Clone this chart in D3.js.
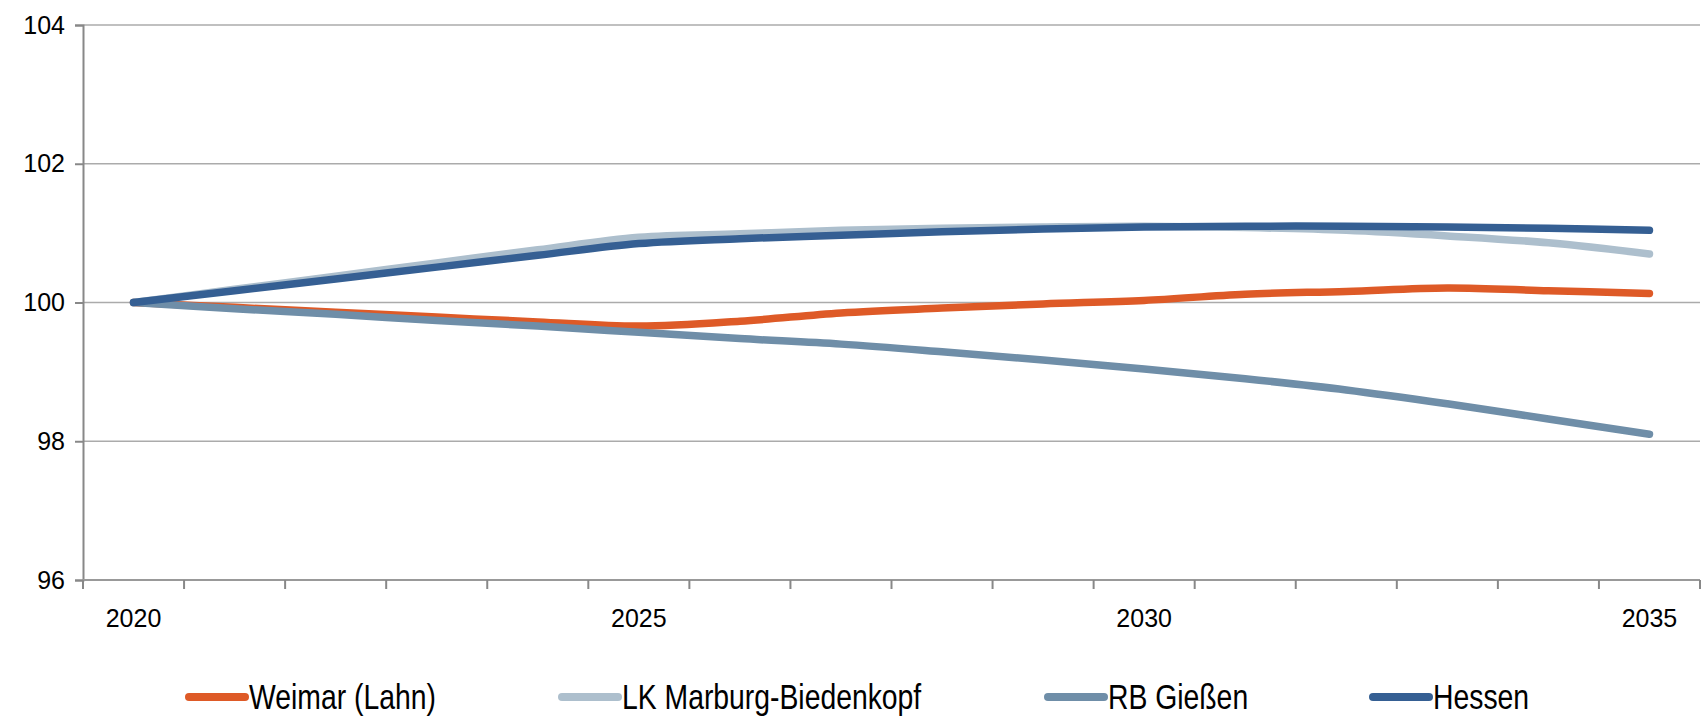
<!DOCTYPE html>
<html lang="de">
<head>
<meta charset="UTF-8">
<title>Bevölkerungsentwicklung Index</title>
<script src="https://d3js.org/d3.v7.min.js"></script>
<style>
  body { margin: 0; background: #fff; }
  svg text { font-family: "Liberation Sans", Arial, sans-serif; fill: #000; }
</style>
</head>
<body>
<svg id="chart" width="1701" height="718"></svg>
<script>
// data
const years = [2020, 2021, 2022, 2023, 2024, 2025, 2026, 2027, 2028, 2029, 2030, 2031, 2032, 2033, 2034, 2035];
const weimar   = [100, 99.93, 99.86, 99.79, 99.72, 99.66, 99.73, 99.85, 99.92, 99.98, 100.03, 100.12, 100.16, 100.21, 100.17, 100.13];
const marburg  = [100, 100.19, 100.38, 100.57, 100.76, 100.94, 100.99, 101.04, 101.07, 101.09, 101.10, 101.08, 101.04, 100.96, 100.86, 100.70];
const giessen  = [100, 99.91, 99.83, 99.74, 99.66, 99.57, 99.48, 99.40, 99.29, 99.17, 99.04, 98.90, 98.74, 98.54, 98.32, 98.10];
const hessen   = [100, 100.17, 100.34, 100.51, 100.68, 100.85, 100.92, 100.97, 101.02, 101.06, 101.09, 101.10, 101.10, 101.09, 101.07, 101.04];
const yTicks = [96, 98, 100, 102, 104];
const xLabels = [2020, 2025, 2030, 2035];

const series = [
  { name: "Weimar (Lahn)", values: weimar, color: "#de5a27" },
  { name: "LK Marburg-Biedenkopf", values: marburg, color: "#adbfcd" },
  { name: "RB Gießen", values: giessen, color: "#6f8ea8" },
  { name: "Hessen", values: hessen, color: "#355f93" }
];

const svg = d3.select("#chart");
const plotLeft = 83, plotRight = 1700, plotTop = 25, plotBottom = 580;

const x = d3.scalePoint().domain(years).range([plotLeft, plotRight]).padding(0.5);
const y = d3.scaleLinear().domain([96, 104]).range([plotBottom, plotTop]);
const step = x.step();

// gridlines
svg.append("g").selectAll("line")
  .data(yTicks.filter(d => d > 96))
  .enter().append("line")
  .attr("x1", plotLeft).attr("x2", plotRight)
  .attr("y1", d => y(d)).attr("y2", d => y(d))
  .attr("stroke", "#ababab").attr("stroke-width", 1.5);

// y axis
const yAxis = svg.append("g")
  .attr("transform", `translate(${plotLeft},0)`)
  .call(d3.axisLeft(y).tickValues(yTicks).tickSize(8).tickPadding(10).tickFormat(d3.format("d")));
yAxis.attr("font-family", null).attr("font-size", null);
yAxis.select(".domain").attr("stroke", "#888").attr("stroke-width", 2);
yAxis.selectAll(".tick line").attr("stroke", "#888").attr("stroke-width", 2);
yAxis.selectAll("text").attr("font-size", 25);

// x axis line + category boundary ticks
svg.append("line")
  .attr("x1", plotLeft).attr("x2", plotRight)
  .attr("y1", plotBottom).attr("y2", plotBottom)
  .attr("stroke", "#999").attr("stroke-width", 2);
const bounds = years.map(d => x(d) - step / 2).concat([x(years[years.length - 1]) + step / 2]);
svg.append("g").selectAll("line")
  .data(bounds)
  .enter().append("line")
  .attr("x1", d => d).attr("x2", d => d)
  .attr("y1", plotBottom).attr("y2", plotBottom + 9)
  .attr("stroke", "#888").attr("stroke-width", 2);

svg.append("g").selectAll("text")
  .data(xLabels)
  .enter().append("text")
  .attr("x", d => x(d))
  .attr("y", 627)
  .attr("text-anchor", "middle")
  .attr("font-size", 25)
  .text(d => d);

// lines, smoothed like the original
const line = d3.line()
  .x((d, i) => x(years[i]))
  .y(d => y(d))
  .curve(d3.curveCatmullRom.alpha(0.5));

svg.append("g").selectAll("path")
  .data(series)
  .enter().append("path")
  .attr("d", d => line(d.values))
  .attr("fill", "none")
  .attr("stroke", d => d.color)
  .attr("stroke-width", 7.5)
  .attr("stroke-linecap", "round")
  .attr("stroke-linejoin", "round");

// legend (condensed text)
const legendX = [189, 562, 1048, 1373];
const legend = svg.append("g").selectAll("g")
  .data(series)
  .enter().append("g")
  .attr("transform", (d, i) => `translate(${legendX[i]},697)`);
legend.append("line")
  .attr("x1", 0).attr("x2", 56)
  .attr("stroke", d => d.color)
  .attr("stroke-width", 8)
  .attr("stroke-linecap", "round");
legend.append("text")
  .attr("transform", "translate(60,12) scale(0.81,1)")
  .attr("font-size", 35)
  .text(d => d.name);
</script>
</body>
</html>
